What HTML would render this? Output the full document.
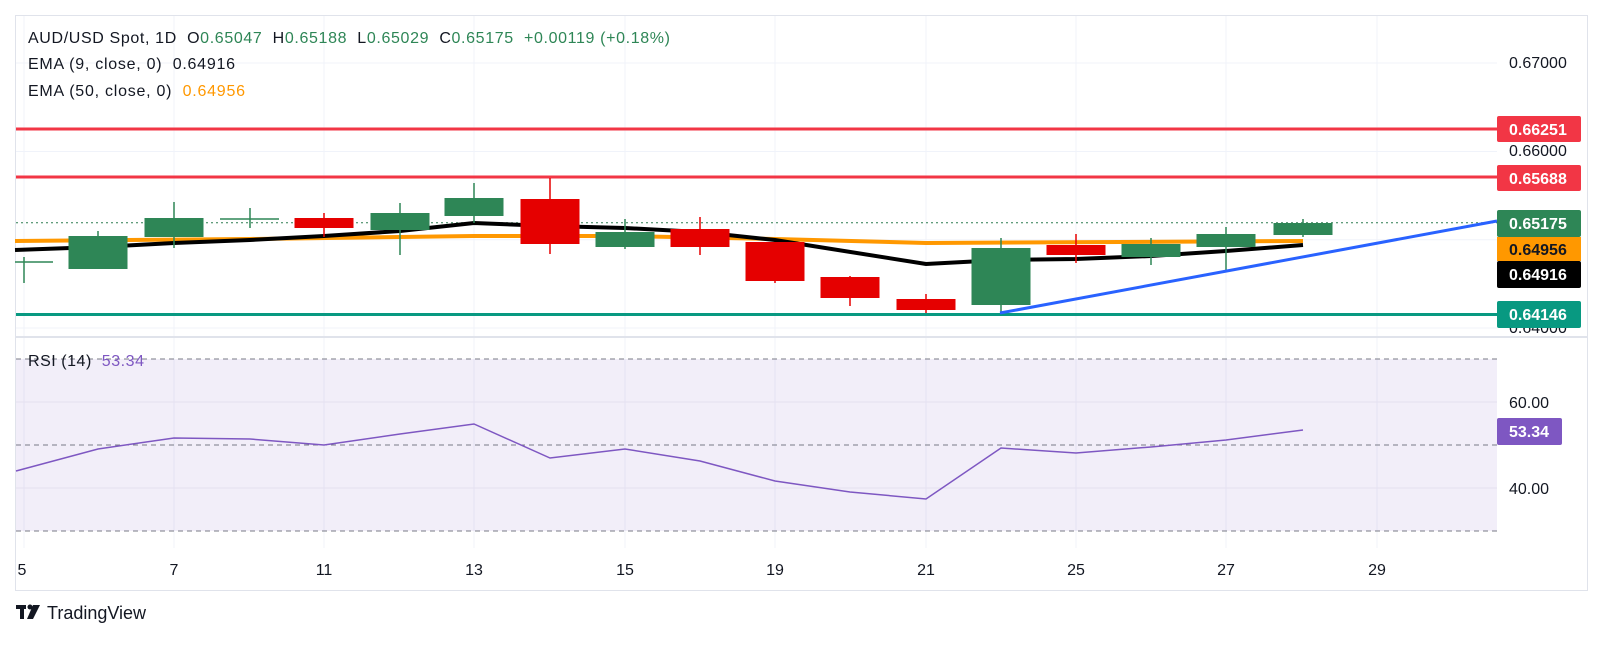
<!DOCTYPE html>
<html><head><meta charset="utf-8"><style>
html,body{margin:0;padding:0;background:#fff;}
svg text{font-family:"Liberation Sans",sans-serif;white-space:pre;}
</style></head><body>
<svg width="1602" height="644" viewBox="0 0 1602 644" xmlns="http://www.w3.org/2000/svg" xml:space="preserve">
<rect x="15.5" y="15.5" width="1572" height="575" fill="#fff" stroke="#e0e3eb"/>
<g stroke="#f0f3fa" stroke-width="1">
<line x1="16" y1="63" x2="1497" y2="63"/><line x1="16" y1="151.5" x2="1497" y2="151.5"/><line x1="16" y1="239.7" x2="1497" y2="239.7"/><line x1="16" y1="328" x2="1497" y2="328"/>
<line x1="24" y1="16" x2="24" y2="548"/><line x1="174" y1="16" x2="174" y2="548"/><line x1="324" y1="16" x2="324" y2="548"/><line x1="474" y1="16" x2="474" y2="548"/><line x1="625" y1="16" x2="625" y2="548"/><line x1="775" y1="16" x2="775" y2="548"/><line x1="926" y1="16" x2="926" y2="548"/><line x1="1076" y1="16" x2="1076" y2="548"/><line x1="1226" y1="16" x2="1226" y2="548"/><line x1="1377" y1="16" x2="1377" y2="548"/>
</g>
<line x1="16" y1="337" x2="1587" y2="337" stroke="#e0e3eb" stroke-width="2"/>
<rect x="16" y="359" width="1481" height="172" fill="#7e57c2" fill-opacity="0.1"/>
<line x1="16" y1="402" x2="1497" y2="402" stroke="#e4e0ef"/><line x1="16" y1="488" x2="1497" y2="488" stroke="#e4e0ef"/>
<g stroke="#787b86" stroke-dasharray="5,4" stroke-width="1">
<line x1="16" y1="359" x2="1497" y2="359"/><line x1="16" y1="445" x2="1497" y2="445"/><line x1="16" y1="531" x2="1497" y2="531"/></g>
<polyline fill="none" stroke="#7e57c2" stroke-width="1.5" points="16,471 98,449 174,438 250,439 324,445 400,434 474,424 550,458 625,449 700,461 775,481 850,492 926,499 1001,448 1076,453 1151,447 1226,440 1303,430"/>
<line x1="16" y1="129" x2="1497" y2="129" stroke="#f23645" stroke-width="3"/>
<line x1="16" y1="177" x2="1497" y2="177" stroke="#f23645" stroke-width="3"/>
<line x1="16" y1="314.5" x2="1497" y2="314.5" stroke="#089981" stroke-width="3"/>
<line x1="16" y1="222.7" x2="1497" y2="222.7" stroke="#2e7d50" stroke-width="1" stroke-dasharray="2,3"/>
<polyline fill="none" stroke="#ff9800" stroke-width="4" points="15,241 250,239 474,236 625,236 775,239 926,243 1303,241"/>
<polyline fill="none" stroke="#000" stroke-width="4" points="15,250 98,247 174,243 250,240 324,236 400,231 474,223 550,226 625,228 700,232 775,240 926,264 1001,260 1076,259 1151,256 1226,251 1303,245"/>
<g stroke-width="1.5">
<g stroke="#2e8656" fill="#2e8656">
<line x1="24" y1="257" x2="24" y2="283"/><line x1="15" y1="262" x2="53" y2="262"/>
<line x1="98" y1="231" x2="98" y2="269"/><rect x="68.5" y="236" width="59" height="33" stroke="none"/>
<line x1="174" y1="202" x2="174" y2="248"/><rect x="144.5" y="218" width="59" height="19" stroke="none"/>
<line x1="250" y1="208" x2="250" y2="228"/><line x1="220" y1="219" x2="279" y2="219"/>
<line x1="400" y1="203" x2="400" y2="255"/><rect x="370.5" y="213" width="59" height="17" stroke="none"/>
<line x1="474" y1="183" x2="474" y2="223"/><rect x="444.5" y="198" width="59" height="18" stroke="none"/>
<line x1="625" y1="219" x2="625" y2="249"/><rect x="595.5" y="232" width="59" height="15" stroke="none"/>
<line x1="1001" y1="238" x2="1001" y2="312"/><rect x="971.5" y="248" width="59" height="57" stroke="none"/>
<line x1="1151" y1="238" x2="1151" y2="265"/><rect x="1121.5" y="244" width="59" height="13" stroke="none"/>
<line x1="1226" y1="227" x2="1226" y2="271"/><rect x="1196.5" y="234" width="59" height="13" stroke="none"/>
<line x1="1303" y1="219" x2="1303" y2="237"/><rect x="1273.5" y="223" width="59" height="12" stroke="none"/>
</g>
<g stroke="#e50000" fill="#e50000">
<line x1="324" y1="213" x2="324" y2="237"/><rect x="294.5" y="218" width="59" height="10" stroke="none"/>
<line x1="550" y1="178" x2="550" y2="254"/><rect x="520.5" y="199" width="59" height="45" stroke="none"/>
<line x1="700" y1="217" x2="700" y2="255"/><rect x="670.5" y="229" width="59" height="18" stroke="none"/>
<line x1="775" y1="242" x2="775" y2="283"/><rect x="745.5" y="242" width="59" height="39" stroke="none"/>
<line x1="850" y1="276" x2="850" y2="306"/><rect x="820.5" y="277" width="59" height="21" stroke="none"/>
<line x1="926" y1="294" x2="926" y2="313"/><rect x="896.5" y="299" width="59" height="11" stroke="none"/>
<line x1="1076" y1="234" x2="1076" y2="263"/><rect x="1046.5" y="245" width="59" height="10" stroke="none"/>
</g></g>
<line x1="1000" y1="313" x2="1497" y2="221" stroke="#2962ff" stroke-width="3"/>
<g font-size="16" fill="#131722">
<text x="1509" y="68">0.67000</text><text x="1509" y="156">0.66000</text><text x="1509" y="333">0.64000</text>
<text x="1509" y="408">60.00</text><text x="1509" y="494">40.00</text>
</g>
<g font-size="16" font-weight="bold">
<rect x="1497" y="116" width="84" height="26" rx="2" fill="#f23645"/><text x="1509" y="135" fill="#fff">0.66251</text>
<rect x="1497" y="165" width="84" height="26" rx="2" fill="#f23645"/><text x="1509" y="184" fill="#fff">0.65688</text>
<rect x="1497" y="210" width="84" height="27" rx="2" fill="#2e8656"/><text x="1509" y="229" fill="#fff">0.65175</text>
<rect x="1497" y="237" width="84" height="24" fill="#ff9800"/><text x="1509" y="255" fill="#131722">0.64956</text>
<rect x="1497" y="261" width="84" height="27" rx="2" fill="#000"/><text x="1509" y="280" fill="#fff">0.64916</text>
<rect x="1497" y="301" width="84" height="27" rx="2" fill="#089981"/><text x="1509" y="320" fill="#fff">0.64146</text>
<rect x="1497" y="418" width="65" height="27" rx="2" fill="#7e57c2"/><text x="1509" y="437" fill="#fff">53.34</text>
</g>
<g font-size="16" fill="#131722" text-anchor="middle">
<text x="22" y="575">5</text><text x="174" y="575">7</text><text x="324" y="575">11</text><text x="474" y="575">13</text><text x="625" y="575">15</text><text x="775" y="575">19</text><text x="926" y="575">21</text><text x="1076" y="575">25</text><text x="1226" y="575">27</text><text x="1377" y="575">29</text>
</g>
<g font-size="16" fill="#131722">
<text x="28" y="43" textLength="642" lengthAdjust="spacing">AUD/USD Spot, 1D  O<tspan fill="#2e8656">0.65047</tspan>  H<tspan fill="#2e8656">0.65188</tspan>  L<tspan fill="#2e8656">0.65029</tspan>  C<tspan fill="#2e8656">0.65175</tspan>  <tspan fill="#2e8656">+0.00119 (+0.18%)</tspan></text>
<text x="28" y="69" textLength="207" lengthAdjust="spacing">EMA (9, close, 0)  0.64916</text>
<text x="28" y="96" textLength="217" lengthAdjust="spacing">EMA (50, close, 0)  <tspan fill="#ff9800">0.64956</tspan></text>
<text x="28" y="366" textLength="116" lengthAdjust="spacing">RSI (14)  <tspan fill="#7e57c2">53.34</tspan></text>
</g>
<g fill="#131722">
<rect x="16" y="605" width="10" height="4"/><rect x="20" y="605" width="4" height="14"/><circle cx="30" cy="607" r="2.5"/><polygon points="33,605 40,605 33,619 27,619"/>
<text x="47" y="619" font-size="18">TradingView</text>
</g>
</svg>
</body></html>
